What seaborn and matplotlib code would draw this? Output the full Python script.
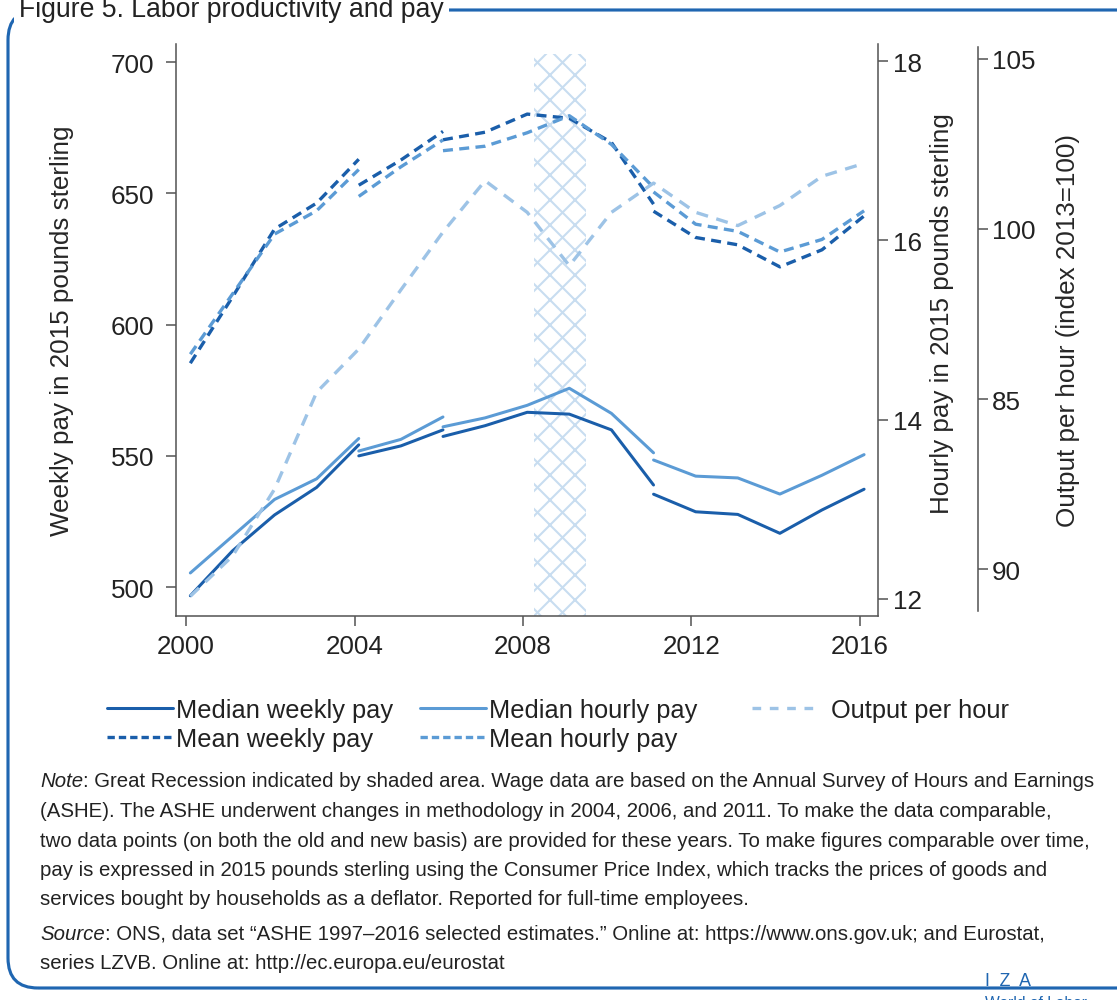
import matplotlib
matplotlib.use("Agg")
import matplotlib.pyplot as plt
from matplotlib.lines import Line2D
from matplotlib.patches import FancyBboxPatch
from matplotlib.transforms import IdentityTransform
import numpy as np
import pandas as pd
import seaborn as sns

# ---------------------------------------------------------------- data
# ASHE survey years; 2004, 2006 and 2011 appear twice (old and new basis)
ashe_years = [2000, 2001, 2002, 2003, 2004,
              2004, 2005, 2006,
              2006, 2007, 2008, 2009, 2010, 2011,
              2011, 2012, 2013, 2014, 2015, 2016]
ashe_basis = [0, 0, 0, 0, 0,
              1, 1, 1,
              2, 2, 2, 2, 2, 2,
              3, 3, 3, 3, 3, 3]

# weekly pay, 2015 pounds sterling
median_weekly = [496.7, 513.8, 527.5, 538.0, 554.2,
                 550.0, 553.8, 559.9,
                 557.4, 561.5, 566.6, 565.9, 559.9, 538.9,
                 535.4, 528.7, 527.7, 520.5, 529.4, 537.3]
mean_weekly = [585.3, 610.5, 636.4, 646.3, 663.0,
               653.1, 662.7, 673.6,
               670.4, 673.3, 680.2, 678.6, 669.4, 645.9,
               643.2, 633.2, 630.4, 622.0, 628.5, 641.4]

# hourly pay, 2015 pounds sterling
median_hourly = [12.29, 12.70, 13.11, 13.34, 13.79,
                 13.65, 13.78, 14.03,
                 13.92, 14.02, 14.16, 14.35, 14.07, 13.63,
                 13.55, 13.37, 13.35, 13.17, 13.38, 13.61]
mean_hourly = [14.73, 15.40, 16.07, 16.33, 16.79,
               16.49, 16.82, 17.12,
               17.00, 17.05, 17.20, 17.39, 17.07, 16.59,
               16.54, 16.18, 16.10, 15.87, 16.01, 16.33]

# output per hour, index 2013 = 100
output_years = list(range(2000, 2017))
output_per_hour = [89.20, 90.38, 92.35, 95.20, 96.47, 98.21, 99.91, 101.42,
                   100.49, 98.92, 100.49, 101.35, 100.49, 100.10, 100.69,
                   101.55, 101.93]

# Great Recession
recession_start, recession_end = 2008.25, 2009.5

# axis ticks and their labels
year_ticks = [2000, 2004, 2008, 2012, 2016]
weekly_ticks = [500, 550, 600, 650, 700]
hourly_ticks = [12, 14, 16, 18]
output_ticks = [90, 95, 100, 105]
output_tick_labels = ["90", "85", "100", "105"]

legend_labels = ["Median weekly pay", "Mean weekly pay",
                 "Median hourly pay", "Mean hourly pay",
                 "Output per hour"]

# ---------------------------------------------------------------- style
W, H, DPI = 1117, 1001, 150
DARK = "#1a5eaa"
MID = "#5b9bd5"
LIGHT = "#9dc3e6"
HATCH = "#c8ddf0"
FRAME = "#1f66b1"
SPINE = "#555555"
TEXT = "#222222"
FONT = ["Liberation Sans", "DejaVu Sans"]

sns.set_style("ticks")
plt.rcParams["font.family"] = FONT
plt.rcParams["hatch.linewidth"] = 1.0
plt.rcParams["axes.edgecolor"] = SPINE
plt.rcParams["text.color"] = TEXT

obs_shift = 0.1  # survey reference period within each year

fig = plt.figure(figsize=(W / DPI, H / DPI), dpi=DPI)

ax_left, ax_top, ax_right, ax_bottom = 176, 45, 878, 617
ax = fig.add_axes([ax_left / W, 1 - ax_bottom / H,
                   (ax_right - ax_left) / W, (ax_bottom - ax_top) / H])
ax_h = ax.twinx()
ax_o = ax.twinx()

# recession band
ax.axvspan(recession_start, recession_end, ymin=0, ymax=0.982,
           facecolor="none", edgecolor=HATCH, hatch="xx", linewidth=0, zorder=0)


def draw_series(axis, years, values, basis, color, dashes, lw):
    frame = pd.DataFrame({"year": np.asarray(years, float) + obs_shift,
                          "value": values, "basis": basis})
    ls = "-" if dashes is None else (0, dashes)
    sns.lineplot(data=frame, x="year", y="value", units="basis",
                 estimator=None, color=color, linestyle=ls, linewidth=lw,
                 ax=axis, legend=False)


solid_lw = 1.45
dash_lw = 1.6
mean_dash = (3.0, 1.9)
out_dash = (3.6, 2.6)

draw_series(ax, ashe_years, median_weekly, ashe_basis, DARK, None, solid_lw)
draw_series(ax, ashe_years, mean_weekly, ashe_basis, DARK, mean_dash, dash_lw)
draw_series(ax_h, ashe_years, median_hourly, ashe_basis, MID, None, solid_lw)
draw_series(ax_h, ashe_years, mean_hourly, ashe_basis, MID, mean_dash, dash_lw)
draw_series(ax_o, output_years, output_per_hour, [0] * len(output_years),
            LIGHT, out_dash, dash_lw)

# ---------------------------------------------------------------- axes
ax.set_xlim(1999.76, 2016.43)
ax.set_ylim(489.0, 706.9)
ax_h.set_ylim(11.81, 18.19)
ax_o.set_ylim(88.62, 105.44)

tick_len = 4.8
ax.set_xticks(year_ticks)
ax.set_xticklabels([str(y) for y in year_ticks])
ax.set_yticks(weekly_ticks)
ax_h.set_yticks(hourly_ticks)
ax_o.set_yticks(output_ticks)
ax_o.set_yticklabels(output_tick_labels)

ax.tick_params(axis="x", length=tick_len, width=0.75, color=SPINE, pad=4,
               labelsize=12.5, labelcolor=TEXT)
ax.tick_params(axis="y", length=tick_len, width=0.75, color=SPINE, pad=5.5,
               labelsize=12.5, labelcolor=TEXT)
ax_h.tick_params(axis="y", length=tick_len, width=0.75, color=SPINE, pad=2.4,
                 labelsize=12.5, labelcolor=TEXT)
ax_o.tick_params(axis="y", length=tick_len, width=0.75, color=SPINE, pad=2.0,
                 labelsize=12.5, labelcolor=TEXT)

for a in (ax, ax_h, ax_o):
    for s in a.spines.values():
        s.set_linewidth(0.75)
        s.set_color(SPINE)
    a.set_xlabel("")

ax.spines["top"].set_visible(False)
ax.spines["right"].set_visible(False)
for a in (ax_h, ax_o):
    a.spines["top"].set_visible(False)
    a.spines["left"].set_visible(False)
    a.spines["bottom"].set_visible(False)
ax_o.spines["right"].set_position(("axes", (978 - ax_left) / (ax_right - ax_left)))
ax_o.spines["right"].set_bounds(88.76, 105.35)

ax.set_ylabel("Weekly pay in 2015 pounds sterling", fontsize=12.5,
              va="center", ha="center")
ax.yaxis.set_label_coords((62 - ax_left) / (ax_right - ax_left), 0.5)
ax_h.set_ylabel("Hourly pay in 2015 pounds sterling", fontsize=12.5,
                va="center", ha="center")
ax_h.yaxis.set_label_coords((942 - ax_left) / (ax_right - ax_left), 0.53)
ax_o.set_ylabel("Output per hour (index 2013=100)", fontsize=12.5,
                va="center", ha="center")
ax_o.yaxis.set_label_coords((1068 - ax_left) / (ax_right - ax_left), 0.5)

# ---------------------------------------------------------------- legend
handles = [
    Line2D([], [], color=DARK, lw=solid_lw),
    Line2D([], [], color=DARK, lw=dash_lw, linestyle=(0, (2.2, 1.2))),
    Line2D([], [], color=MID, lw=solid_lw),
    Line2D([], [], color=MID, lw=dash_lw, linestyle=(0, (2.2, 1.2))),
    Line2D([], [], color=LIGHT, lw=dash_lw, linestyle=(0, (2.6, 2.6))),
]
leg_font = {"family": FONT, "size": 12.2}
legend_cols = [(107, [0, 1], 0.12), (420, [2, 3], 0.12), (752, [4], 0.5)]
for x0, idx, pad in legend_cols:
    fig.legend([handles[i] for i in idx], [legend_labels[i] for i in idx],
               loc="upper left", bbox_to_anchor=(x0 / W, 1 - 699 / H),
               frameon=False, borderpad=0, borderaxespad=0,
               handlelength=2.6, handletextpad=pad, labelspacing=0.2,
               prop=leg_font)

# ---------------------------------------------------------------- notes
renderer = fig.canvas.get_renderer()
note_font = dict(family=FONT, size=9.75, color=TEXT, va="center", ha="left")


def lead_line(y, lead, rest):
    t = fig.text(40 / W, 1 - y / H, lead, style="italic", **note_font)
    w = t.get_window_extent(renderer=renderer).width
    fig.text((40 + w) / W, 1 - y / H, rest, **note_font)


lead_line(782, "Note", ": Great Recession indicated by shaded area. Wage data are based on "
          "the Annual Survey of Hours and Earnings")
note_lines = [
    "(ASHE). The ASHE underwent changes in methodology in 2004, 2006, and 2011. "
    "To make the data comparable,",
    "two data points (on both the old and new basis) are provided for these years. "
    "To make figures comparable over time,",
    "pay is expressed in 2015 pounds sterling using the Consumer Price Index, "
    "which tracks the prices of goods and",
    "services bought by households as a deflator. Reported for full-time employees.",
]
for k, line in enumerate(note_lines):
    fig.text(40 / W, 1 - (812 + 29.2 * k) / H, line, **note_font)

lead_line(935, "Source", ": ONS, data set \u201cASHE 1997\u20132016 selected estimates.\u201d "
          "Online at: https://www.ons.gov.uk; and Eurostat,")
fig.text(40 / W, 1 - 964 / H, "series LZVB. Online at: http://ec.europa.eu/eurostat",
         **note_font)

# ---------------------------------------------------------------- frame and title
frame = FancyBboxPatch((8, 12), 1160, 978, boxstyle="round,pad=0,rounding_size=30",
                       transform=IdentityTransform(), facecolor="none",
                       edgecolor=FRAME, linewidth=1.5, zorder=-5)
fig.patches.append(frame)
fig.text(19 / W, 1 - 17 / H, "Figure 5. Labor productivity and pay",
         family=FONT, size=12.8, color=TEXT, ha="left", va="baseline",
         bbox=dict(facecolor="white", edgecolor="none", pad=2.5))

fig.text(985 / W, 1 - 982 / H, "I  Z  A", family=FONT, size=8.5,
         color=FRAME, ha="left", va="center")
fig.text(985 / W, 1 - 1004 / H, "World of Labor", family=FONT, size=7.5,
         color=FRAME, ha="left", va="center")

fig.savefig("out.png", dpi=DPI, facecolor="white")
